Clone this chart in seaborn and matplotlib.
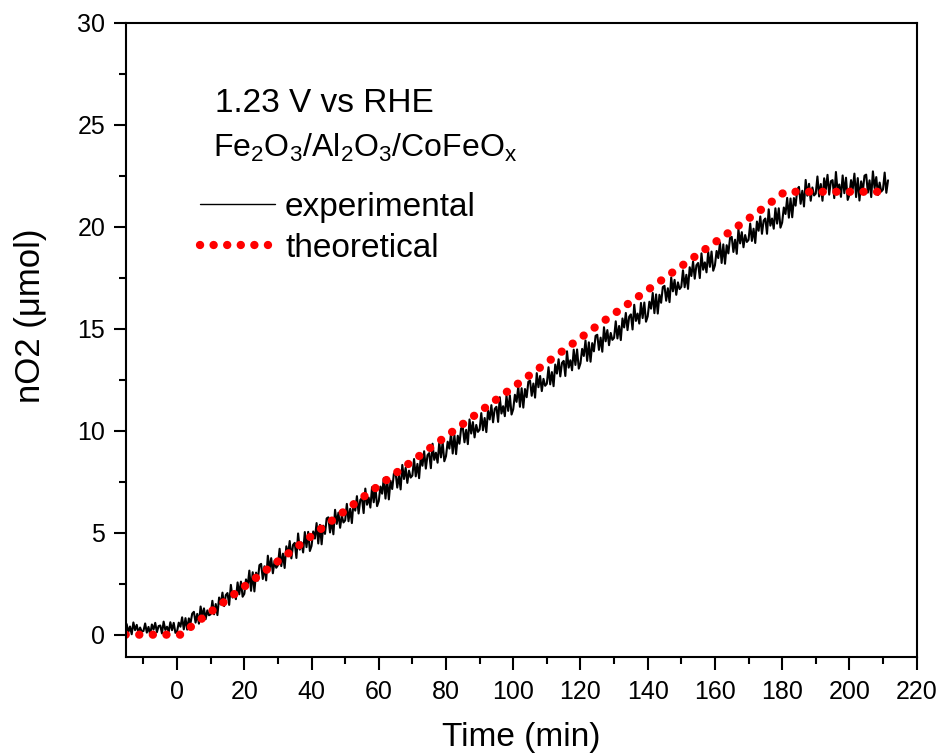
import numpy as np
import pandas as pd
import matplotlib
matplotlib.use('Agg')
import matplotlib.pyplot as plt
import seaborn as sns

# experimental nO2 (umol), one reading every half minute from -15 to 211.5 min
exp_time = np.arange(-15, 212, 0.5)
exp_nO2 = [
    0.52, 0.12, 0.40, 0.02, 0.60, 0.22, 0.48, 0.08, 0.35, 0.15,
    0.18, 0.55, 0.10, 0.38, 0.00, 0.50, 0.25, 0.58, 0.12, 0.42,
    0.45, 0.06, 0.64, 0.23, 0.39, 0.13, 0.61, 0.22, 0.58, 0.09,
    0.16, 0.59, 0.39, 0.85, 0.26, 0.81, 0.25, 0.80, 0.57, 1.03,
    1.12, 0.59, 1.02, 0.54, 1.38, 0.90, 1.29, 0.76, 1.19, 0.95,
    1.00, 1.66, 1.00, 1.50, 0.96, 1.82, 1.48, 2.06, 1.40, 1.94,
    2.04, 1.46, 2.44, 1.82, 2.12, 1.74, 2.56, 1.98, 2.60, 1.86,
    2.00, 2.71, 2.37, 3.14, 2.15, 3.06, 2.12, 3.04, 2.65, 3.41,
    3.47, 2.73, 3.35, 2.66, 3.87, 3.18, 3.75, 3.01, 3.62, 3.28,
    3.40, 4.21, 3.36, 3.97, 3.27, 4.33, 3.88, 4.59, 3.74, 4.40,
    4.50, 3.76, 4.96, 4.17, 4.52, 4.03, 5.03, 4.29, 5.04, 4.10,
    4.35, 5.06, 4.71, 5.47, 4.47, 5.38, 4.43, 5.34, 4.94, 5.70,
    5.75, 5.01, 5.61, 4.92, 6.12, 5.43, 5.98, 5.24, 5.84, 5.50,
    5.60, 6.41, 5.56, 6.17, 5.47, 6.53, 6.08, 6.79, 5.94, 6.60,
    6.70, 5.96, 7.16, 6.37, 6.72, 6.23, 7.23, 6.49, 7.24, 6.30,
    6.55, 7.26, 6.91, 7.67, 6.67, 7.58, 6.63, 7.54, 7.14, 7.90,
    7.95, 7.21, 7.81, 7.12, 8.32, 7.63, 8.18, 7.44, 8.04, 7.70,
    7.80, 8.61, 7.76, 8.37, 7.67, 8.73, 8.28, 8.99, 8.14, 8.80,
    8.90, 8.16, 9.36, 8.57, 8.92, 8.43, 9.43, 8.69, 9.44, 8.50,
    8.75, 9.46, 9.12, 9.87, 8.88, 9.79, 8.85, 9.75, 9.36, 10.12,
    10.17, 9.43, 10.04, 9.34, 10.55, 9.86, 10.42, 9.67, 10.28, 9.94,
    10.05, 10.86, 10.02, 10.62, 9.93, 10.99, 10.55, 11.25, 10.41, 11.07,
    11.17, 10.43, 11.64, 10.84, 11.20, 10.71, 11.72, 10.97, 11.73, 10.79,
    11.05, 11.76, 11.41, 12.17, 11.17, 12.08, 11.13, 12.04, 11.64, 12.40,
    12.45, 11.71, 12.31, 11.62, 12.82, 12.13, 12.68, 11.94, 12.54, 12.20,
    12.30, 13.11, 12.27, 12.87, 12.18, 13.24, 12.80, 13.50, 12.66, 13.32,
    13.42, 12.68, 13.89, 13.09, 13.45, 12.96, 13.97, 13.22, 13.98, 13.04,
    13.30, 14.01, 13.66, 14.42, 13.42, 14.33, 13.38, 14.29, 13.89, 14.65,
    14.70, 13.96, 14.56, 13.87, 15.07, 14.38, 14.93, 14.19, 14.79, 14.45,
    14.55, 15.36, 14.52, 15.13, 14.44, 15.50, 15.06, 15.77, 14.93, 15.59,
    15.70, 14.96, 16.17, 15.38, 15.74, 15.25, 16.26, 15.52, 16.28, 15.34,
    15.60, 16.32, 15.98, 16.75, 15.76, 16.68, 15.74, 16.66, 16.27, 17.04,
    17.10, 16.37, 16.98, 16.30, 17.51, 16.83, 17.39, 16.66, 17.27, 16.94,
    17.05, 17.86, 17.03, 17.64, 16.95, 18.01, 17.58, 18.29, 17.45, 18.11,
    18.22, 17.48, 18.69, 17.89, 18.25, 17.76, 18.77, 18.03, 18.78, 17.84,
    18.10, 18.81, 18.46, 19.22, 18.22, 19.13, 18.18, 19.09, 18.69, 19.45,
    19.50, 18.76, 19.36, 18.67, 19.87, 19.18, 19.73, 18.99, 19.59, 19.25,
    19.35, 20.15, 19.30, 19.90, 19.20, 20.25, 19.80, 20.50, 19.65, 20.30,
    20.40, 19.65, 20.85, 20.05, 20.40, 19.90, 20.90, 20.15, 20.90, 19.95,
    20.20, 20.94, 20.62, 21.41, 20.44, 21.38, 20.46, 21.40, 21.03, 21.82,
    21.95, 21.12, 21.76, 20.99, 22.29, 21.52, 22.10, 21.27, 21.92, 21.53,
    21.62, 22.46, 21.48, 22.09, 21.27, 22.37, 21.83, 22.54, 21.57, 22.23,
    22.28, 21.40, 22.68, 21.74, 22.07, 21.46, 22.51, 21.64, 22.40, 21.31,
    21.56, 22.28, 21.84, 22.60, 21.45, 22.38, 21.28, 22.22, 21.72, 22.50,
    22.55, 21.67, 22.27, 21.45, 22.71, 21.89, 22.43, 21.55, 22.16, 21.72,
    21.82, 22.65, 21.66, 22.27,
]

# theoretical curve, read at its corners
theo_time = [-15.3, 1.2, 4.3, 10.6, 56.3, 124.6, 174.5, 180.8, 210.0]
theo_nO2 = [0.0, 0.0, 0.41, 1.19, 6.86, 15.10, 20.92, 21.71, 21.71]

sns.set_theme(style='ticks')
plt.rcParams['font.family'] = ['Liberation Sans', 'DejaVu Sans']
plt.rcParams['mathtext.fontset'] = 'custom'
plt.rcParams['mathtext.rm'] = 'Liberation Sans'
plt.rcParams['mathtext.it'] = 'Liberation Sans'
for k in ['text.color', 'axes.labelcolor', 'xtick.color', 'ytick.color',
          'xtick.labelcolor', 'ytick.labelcolor']:
    plt.rcParams[k] = 'black'

fig = plt.figure(figsize=(9.43, 7.55), dpi=100)
ax = fig.add_axes([0.1336, 0.1302, 0.972 - 0.1336, 0.970 - 0.1302])

exp_df = pd.DataFrame({'time': exp_time, 'nO2': exp_nO2})
theo_df = pd.DataFrame({'time': theo_time, 'nO2': theo_nO2})

sns.lineplot(data=exp_df, x='time', y='nO2', ax=ax, color='black',
             linewidth=1.5, estimator=None, label='experimental')
sns.lineplot(data=theo_df, x='time', y='nO2', ax=ax, color='#ff0000',
             linewidth=6.0, estimator=None, label='theoretical',
             linestyle=(0, (0.01, 1.62)), dash_capstyle='round')

ax.set_xlim(-15.2, 220)
ax.set_ylim(-1.08, 30)
ax.set_xticks(np.arange(0, 221, 20))
ax.set_xticks(np.arange(-10, 220, 20), minor=True)
ax.set_yticks(np.arange(0, 31, 5))
ax.set_yticks(np.arange(2.5, 30, 5), minor=True)

for s in ax.spines.values():
    s.set_linewidth(1.5)
    s.set_color('black')
ax.tick_params(which='major', direction='out', length=9, width=1.5,
               labelsize=18, colors='black')
ax.tick_params(axis='x', which='major', pad=8)
ax.tick_params(axis='y', which='major', pad=6)
ax.tick_params(which='minor', direction='out', length=4.8, width=1.5,
               colors='black')

ax.set_xlabel('Time (min)', fontsize=24)
ax.set_ylabel('nO2 (μmol)', fontsize=25)
ax.xaxis.label.set_verticalalignment('center')
ax.yaxis.label.set_verticalalignment('center')
ax.xaxis.set_label_coords(0.5, -0.1267)
ax.yaxis.set_label_coords(-0.1214, 0.538)

fig.text(215 / 943, 1 - 111.7 / 755, '1.23 V vs RHE', fontsize=24, va='baseline')
fig.text(213 / 943, 1 - 157.3 / 755, r'Fe$_2$O$_3$/Al$_2$O$_3$/CoFeO$_x$',
         fontsize=23, va='baseline')

leg = ax.legend(loc='upper left', bbox_to_anchor=(200 / 943, 1 - 192 / 755),
                bbox_transform=fig.transFigure, frameon=False, fontsize=24,
                borderpad=0, borderaxespad=0, handlelength=2.25,
                handletextpad=0.3, labelspacing=0.3)
for h in leg.get_lines():
    if h.get_label() == 'experimental':
        h.set_linewidth(1.0)

fig.savefig('out.png', dpi=100, facecolor='white')
